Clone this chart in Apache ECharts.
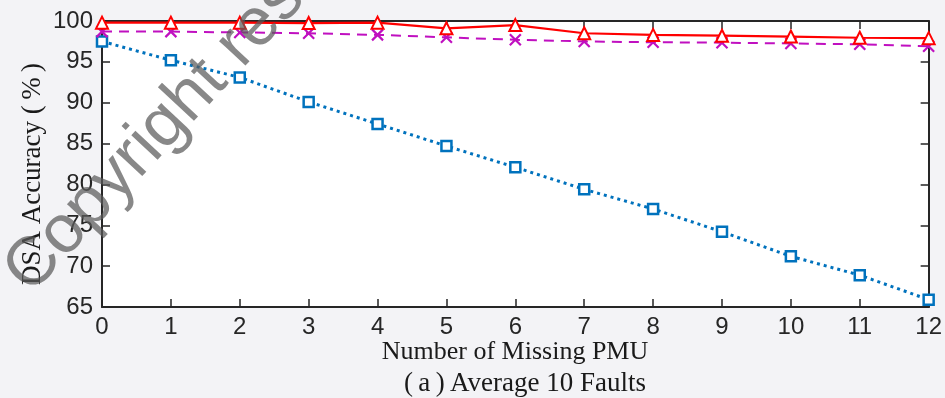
<!DOCTYPE html>
<html>
<head>
<meta charset="utf-8">
<script src="https://cdn.jsdelivr.net/npm/echarts@6/dist/echarts.min.js"></script>
<style>
  html, body { margin: 0; padding: 0; background: #f3f3f6; }
  #chart { width: 945px; height: 398px; }
</style>
</head>
<body>
<div id="chart"></div>
<script>
// Number of missing PMUs (x axis)
const missingPMU = [0, 1, 2, 3, 4, 5, 6, 7, 8, 9, 10, 11, 12];

// DSA accuracy (%) for each method
const accRed = [99.8, 99.8, 99.8, 99.75, 99.8, 99.1, 99.5, 98.5, 98.3, 98.2, 98.1, 97.95, 97.9];
const accMagenta = [98.7, 98.7, 98.6, 98.5, 98.3, 98.0, 97.7, 97.5, 97.4, 97.35, 97.25, 97.15, 96.9];
const accBlue = [97.5, 95.2, 93.1, 90.1, 87.4, 84.7, 82.1, 79.4, 77.0, 74.2, 71.2, 68.9, 65.9];

const xTitle = 'Number of Missing PMU';
const yTitle = 'DSA Accuracy (\u2009%\u2009)';
const caption = '(\u2009a\u2009)\u2009Average 10 Faults';
const watermark = 'Copyright reserved';

const frameColor = '#262626';
const pairs = arr => missingPMU.map((x, i) => [x, arr[i]]);

const chart = echarts.init(document.getElementById('chart'));

const axisCommon = {
  type: 'value',
  axisLine: { show: true, onZero: false, lineStyle: { color: frameColor, width: 2 } },
  axisTick: { show: true, inside: true, length: 8, lineStyle: { color: frameColor, width: 1.5 } },
  splitLine: { show: false }
};

chart.setOption({
  backgroundColor: '#f3f3f6',
  animation: false,
  grid: {
    left: 102, right: 15, top: 21, bottom: 91,
    show: true, backgroundColor: '#ffffff', borderWidth: 0
  },
  xAxis: [
    Object.assign({}, axisCommon, {
      position: 'bottom', min: 0, max: 12, interval: 1,
      axisLabel: { fontFamily: 'Liberation Sans', fontSize: 24, color: frameColor, margin: 8 }
    }),
    Object.assign({}, axisCommon, {
      position: 'top', min: 0, max: 12, interval: 1,
      axisLabel: { show: false }
    })
  ],
  yAxis: [
    Object.assign({}, axisCommon, {
      position: 'left', min: 65, max: 100, interval: 5,
      axisLabel: { fontFamily: 'Liberation Sans', fontSize: 24, color: frameColor, margin: 9 }
    }),
    Object.assign({}, axisCommon, {
      position: 'right', min: 65, max: 100, interval: 5,
      axisLabel: { show: false }
    })
  ],
  series: [
    {
      type: 'line', data: pairs(accBlue), clip: false, z: 2,
      symbol: 'rect', symbolSize: 10,
      lineStyle: { color: '#0072bd', width: 3, type: [3, 4] },
      itemStyle: { color: '#ffffff', borderColor: '#0072bd', borderWidth: 2.5 }
    },
    {
      type: 'line', data: pairs(accMagenta), clip: false, z: 3,
      symbol: 'path://M0,0L10,10M10,0L0,10', symbolSize: 11,
      lineStyle: { color: '#c010c0', width: 2, type: [10, 7] },
      itemStyle: { color: '#c010c0', borderColor: '#c010c0', borderWidth: 2.2 }
    },
    {
      type: 'line', data: pairs(accRed), clip: false, z: 4,
      symbol: 'triangle', symbolSize: 12,
      lineStyle: { color: '#ff0000', width: 2.2 },
      itemStyle: { color: '#ffffff', borderColor: '#ff0000', borderWidth: 2 }
    }
  ],
  graphic: [
    {
      type: 'text', x: 515, y: 352, z: 10,
      style: { text: xTitle, font: '26px "Liberation Serif"', fill: '#1a1a1a', align: 'center', verticalAlign: 'middle' }
    },
    {
      type: 'text', x: 525, y: 384, z: 10,
      style: { text: caption, font: '27px "Liberation Serif"', fill: '#1a1a1a', align: 'center', verticalAlign: 'middle' }
    },
    {
      type: 'text', x: 33, y: 174, rotation: Math.PI / 2, z: 10,
      style: { text: yTitle, font: '27px "Liberation Serif"', fill: '#1a1a1a', align: 'center', verticalAlign: 'middle' }
    },
    {
      type: 'text', x: 42, y: 306, rotation: 47 * Math.PI / 180, z: 100,
      style: { text: watermark, font: '68px "Liberation Sans"', fill: 'rgba(90,90,90,0.72)', align: 'left', verticalAlign: 'bottom' }
    }
  ]
});
</script>
</body>
</html>
